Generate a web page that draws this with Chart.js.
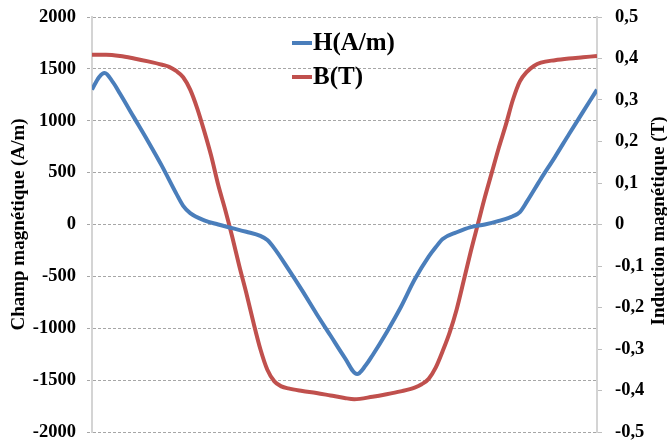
<!DOCTYPE html>
<html>
<head>
<meta charset="utf-8">
<script src="https://cdn.jsdelivr.net/npm/chart.js@4"></script>
<style>
html,body{margin:0;padding:0;background:#fff;}
#wrap{width:667px;height:444px;position:relative;}
</style>
</head>
<body>
<div id="wrap"><canvas id="myChart"></canvas></div>
<script>
// position along the period (degrees)
var angleH = [0,5,9,15,20,30,40,50,60,65,70,80,90,100,110,120,125,130,140,150,160,170,180,189,195,200,210,220,230,240,245,250,260,270,280,290,300,305,310,320,330,340,350,360];
var hValues = [1300,1420,1460,1370,1260,1030,800,560,300,180,110,40,0,-35,-70,-110,-150,-230,-430,-640,-860,-1070,-1280,-1442,-1360,-1260,-1040,-800,-530,-310,-220,-140,-75,-25,0,35,80,120,220,440,650,870,1085,1300];

var angleB = [0,10,20,30,40,50,55,60,65,70,75,80,85,90,95,100,105,110,115,120,125,130,135,140,150,160,170,180,187,200,210,220,230,235,240,245,250,255,260,265,270,275,280,285,290,295,300,305,310,315,320,330,340,350,360];
var bValues = [0.409,0.409,0.406,0.400,0.393,0.385,0.380,0.370,0.355,0.325,0.280,0.225,0.165,0.095,0.035,-0.030,-0.100,-0.165,-0.235,-0.300,-0.350,-0.378,-0.390,-0.395,-0.401,-0.406,-0.412,-0.418,-0.421,-0.415,-0.409,-0.402,-0.393,-0.385,-0.372,-0.345,-0.305,-0.260,-0.204,-0.135,-0.065,0.000,0.065,0.125,0.185,0.240,0.300,0.345,0.368,0.382,0.390,0.396,0.400,0.403,0.406];

var seriesNames = ['H(A/m)', 'B(T)'];
var leftTitle = 'Champ magnétique (A/m)';
var rightTitle = 'Induction magnétique (T)';

var serif = "'Liberation Serif', 'Times New Roman', serif";

function toPoints(xs, ys){
    return xs.map(function(x, i){ return {x: x, y: ys[i]}; });
}

// legend inside the plot + right axis title reading upward
var extras = {
    id: 'extras',
    afterDraw: function(chart){
        var ctx = chart.ctx;
        ctx.save();
        chart.data.datasets.forEach(function(ds, i){
            var y = 43 + i*34;
            ctx.strokeStyle = ds.borderColor;
            ctx.lineWidth = 4;
            ctx.beginPath();
            ctx.moveTo(292, y);
            ctx.lineTo(312, y);
            ctx.stroke();
            ctx.fillStyle = '#000';
            ctx.font = 'bold 25px ' + serif;
            ctx.textBaseline = 'middle';
            ctx.textAlign = 'left';
            ctx.fillText(ds.label, 313, y + 1);
        });
        ctx.translate(659, 221);
        ctx.rotate(-Math.PI/2);
        ctx.font = 'bold 19px ' + serif;
        ctx.textAlign = 'center';
        ctx.textBaseline = 'middle';
        ctx.fillStyle = '#000';
        ctx.fillText(rightTitle, 0, 0);
        ctx.restore();
    }
};

function fixLeft(s){ s.width = 92; s.paddingTop = 0; s.paddingBottom = 0; }
function fixRight(s){ s.width = 70; s.paddingTop = 0; s.paddingBottom = 0; }

var ctx = document.getElementById('myChart').getContext('2d');
var myChart = new Chart(ctx, {
    type: 'line',
    data: {
        datasets: [{
            label: seriesNames[0],
            data: toPoints(angleH, hValues),
            borderColor: '#4a7ebb',
            borderWidth: 4,
            pointRadius: 0,
            cubicInterpolationMode: 'monotone',
            yAxisID: 'y'
        },
        {
            label: seriesNames[1],
            data: toPoints(angleB, bValues),
            borderColor: '#c0504d',
            borderWidth: 4,
            pointRadius: 0,
            cubicInterpolationMode: 'monotone',
            yAxisID: 'y1'
        }]
    },
    options: {
        responsive: true,
        maintainAspectRatio: false,
        animation: false,
        layout: {padding: {top: 17, bottom: 12, left: 0, right: 0}},
        plugins: {legend: {display: false}, tooltip: {enabled: false}},
        scales: {
            x: {
                type: 'linear',
                min: 0,
                max: 360,
                display: false
            },
            y: {
                position: 'left',
                min: -2000,
                max: 2000,
                afterFit: fixLeft,
                ticks: {
                    stepSize: 500,
                    color: '#000',
                    padding: 11,
                    font: {family: serif, size: 18.5, weight: 'bold'},
                    callback: function(v){ return String(v); }
                },
                grid: {
                    color: '#a6a6a6',
                    lineWidth: 1,
                    tickLength: 5,
                    tickColor: '#a6a6a6',
                    tickBorderDash: [3, 2]
                },
                border: {color: '#d4d4d4', width: 2, dash: [3, 2]},
                title: {
                    display: true,
                    text: leftTitle,
                    color: '#000',
                    padding: {top: 8, bottom: 0},
                    font: {family: serif, size: 19, weight: 'bold'}
                }
            },
            y1: {
                position: 'right',
                min: -0.5,
                max: 0.5,
                afterFit: fixRight,
                ticks: {
                    stepSize: 0.1,
                    color: '#000',
                    padding: 13,
                    font: {family: serif, size: 18.5, weight: 'bold'},
                    callback: function(v){
                        var r = Math.round(v*10)/10;
                        if (r === 0) return '0';
                        return r.toFixed(1).replace('.', ',');
                    }
                },
                grid: {
                    drawOnChartArea: false,
                    tickLength: 5,
                    tickColor: '#bfbfbf'
                },
                border: {color: '#d4d4d4', width: 2}
            }
        }
    },
    plugins: [extras]
});
</script>
</body>
</html>
